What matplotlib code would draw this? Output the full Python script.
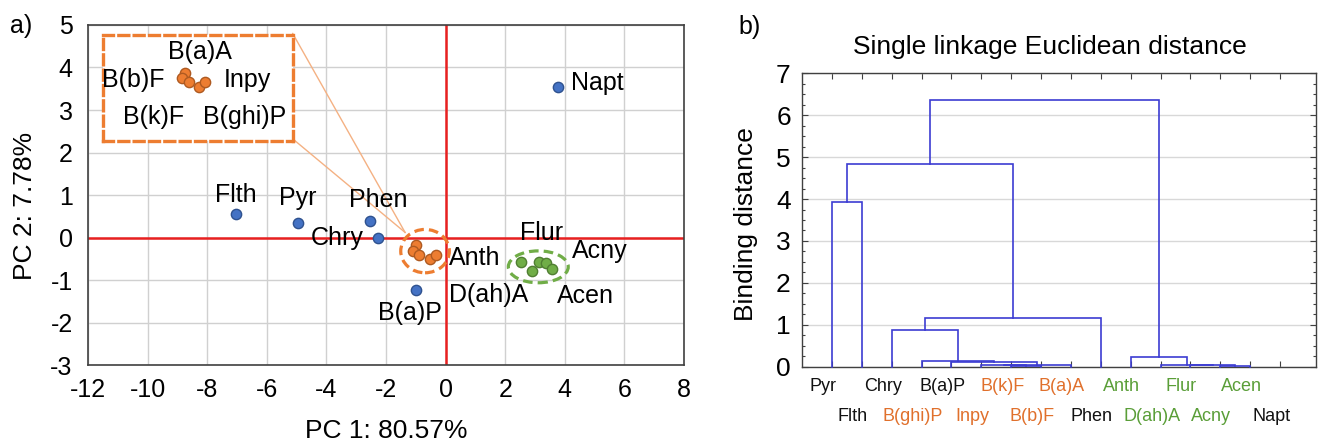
import matplotlib.pyplot as plt
from matplotlib.patches import Ellipse
import numpy as np

plt.rcParams['font.family'] = ['Liberation Sans', 'DejaVu Sans']
plt.rcParams['axes.unicode_minus'] = False

# ---- a) PCA scores ----
blue_names = ['Flth', 'Pyr', 'Phen', 'Chry', 'B(a)P', 'Napt']
blue_x = [-7.03, -4.96, -2.54, -2.28, -0.99, 3.77]
blue_y = [0.55, 0.33, 0.40, 0.00, -1.24, 3.53]

orange_names = ['B(a)A', 'B(b)F', 'Inpy', 'B(k)F', 'B(ghi)P']
orange_x = [-0.99, -1.10, -0.88, -0.52, -0.32]
orange_y = [-0.18, -0.31, -0.40, -0.51, -0.41]

green_names = ['Anth', 'D(ah)A', 'Flur', 'Acny', 'Acen']
green_x = [2.52, 2.89, 3.14, 3.36, 3.56]
green_y = [-0.57, -0.78, -0.58, -0.59, -0.73]

# where each name is written (PC1, PC2)
label_pos = {
    'Flth': (-7.03, 1.0), 'Pyr': (-4.96, 0.92), 'Phen': (-2.25, 0.88),
    'Chry': (-3.65, 0.0), 'B(a)P': (-1.18, -1.77), 'Napt': (5.1, 3.63),
    'Anth': (0.99, -0.49), 'D(ah)A': (1.43, -1.35), 'Flur': (3.22, 0.1),
    'Acny': (5.16, -0.32), 'Acen': (4.68, -1.38),
    'B(a)A': (-8.24, 4.37), 'B(b)F': (-10.48, 3.71), 'Inpy': (-6.64, 3.71),
    'B(k)F': (-9.79, 2.84), 'B(ghi)P': (-6.73, 2.84),
}

# magnified box for the orange group
box = (-11.51, 2.28, -5.13, 4.76)
box_shift = (-7.74, 4.06)

# ---- b) dendrogram ----
leaves = ['Pyr', 'Flth', 'Chry', 'B(ghi)P', 'B(a)P', 'Inpy', 'B(k)F', 'B(b)F',
          'B(a)A', 'Phen', 'Anth', 'D(ah)A', 'Flur', 'Acny', 'Acen', 'Napt']
leaf_group = ['k', 'k', 'k', 'o', 'k', 'o', 'o', 'o',
              'o', 'k', 'g', 'g', 'g', 'g', 'g', 'k']
# (left id, right id, height); ids 0-15 are leaves, 16+ are merges
merges = [(0, 1, 3.92), (6, 7, 0.02), (5, 17, 0.03), (18, 8, 0.05),
          (4, 19, 0.12), (3, 20, 0.14), (2, 21, 0.88), (22, 9, 1.15),
          (16, 23, 4.83), (13, 14, 0.02), (12, 25, 0.03), (11, 26, 0.05),
          (10, 27, 0.22), (24, 28, 6.37)]

c_blue, e_blue = '#4472c4', '#2f528f'
c_orange, e_orange = '#ed7d31', '#ae5a21'
c_green, e_green = '#70ad47', '#507e32'
txt_col = {'k': '#111111', 'o': '#e0702c', 'g': '#5a9e38'}

fig = plt.figure(figsize=(13.21, 4.44), dpi=100)

# ================= a) =================
ax = fig.add_axes([0.0666, 0.1779, 0.4512, 0.7658])
ax.set_xlim(-12, 8)
ax.set_ylim(-3, 5)
ax.set_xticks(np.arange(-12, 9, 2))
ax.set_yticks(np.arange(-3, 6, 1))
ax.grid(True, color='#d0d0d0', lw=1)
ax.set_axisbelow(True)
ax.tick_params(length=0, labelsize=18)
ax.tick_params(axis='y', pad=11)
ax.tick_params(axis='x', pad=9)
for s in ax.spines.values():
    s.set_color('#404040')
    s.set_linewidth(1.2)
ax.axhline(0, color='#e82020', lw=1.8, zorder=1)
ax.axvline(0, color='#e82020', lw=1.8, zorder=1)

ax.scatter(blue_x, blue_y, s=55, c=c_blue, edgecolors=e_blue, lw=1, zorder=3)
ax.scatter(orange_x, orange_y, s=55, c=c_orange, edgecolors=e_orange, lw=1, zorder=3)
ax.scatter(green_x, green_y, s=55, c=c_green, edgecolors=e_green, lw=1, zorder=3)

ax.add_patch(Ellipse((-0.69, -0.32), 1.63, 1.02, fill=False, ec=c_orange,
                     lw=2.3, ls=(0, (3, 1.6)), zorder=2))
ax.add_patch(Ellipse((3.11, -0.69), 2.01, 0.75, fill=False, ec=c_green,
                     lw=2.3, ls=(0, (3, 1.6)), zorder=2))

# connector lines from box to group
ax.plot([box[2], -1.36], [box[3] + 0.04, 0.12], color='#f4b183', lw=1, zorder=2)
ax.plot([box[2] + 0.07, -1.36], [box[1], 0.12], color='#f4b183', lw=1, zorder=2)

ins = ax.inset_axes([box[0], box[1], box[2] - box[0], box[3] - box[1]],
                    transform=ax.transData, zorder=4)
ins.set_xlim(box[0] - box_shift[0], box[2] - box_shift[0])
ins.set_ylim(box[1] - box_shift[1], box[3] - box_shift[1])
ins.set_xticks([])
ins.set_yticks([])
ins.set_facecolor('white')
for s in ins.spines.values():
    s.set_edgecolor(c_orange)
    s.set_linewidth(2.4)
    s.set_linestyle((0, (3, 1.6)))
ins.scatter(orange_x, orange_y, s=55, c=c_orange, edgecolors=e_orange, lw=1, zorder=3)

for name, (lx, ly) in label_pos.items():
    ax.text(lx, ly, name, fontsize=18, ha='center', va='center', zorder=6)

ax.set_xlabel('PC 1: 80.57%', fontsize=19)
ax.set_ylabel('PC 2: 7.78%', fontsize=19)
ax.xaxis.set_label_coords(0.5, -0.16)
ax.yaxis.set_label_coords(-0.085, 0.468)
fig.text(21 / 1321, 1 - 26 / 444, 'a)', fontsize=18, ha='center', va='center')

# ================= b) =================
bx = fig.add_axes([0.6071, 0.1741, 0.3891, 0.6608])
n = len(leaves)
bx.set_xlim(0, 17.2)
bx.set_ylim(0, 7)
bx.set_yticks(np.arange(0, 8, 1))
bx.set_yticks(np.arange(0, 7.01, 0.25), minor=True)
bx.set_xticks(np.arange(1, n + 1))
bx.set_xticklabels([])
bx.grid(True, axis='y', color='#d8d8d8', lw=1)
bx.set_axisbelow(True)
bx.tick_params(direction='in', top=True, right=True, length=4, width=0.8,
               colors='#404040', labelsize=19, labelcolor='black')
bx.tick_params(axis='y', pad=8)
bx.tick_params(which='minor', direction='in', right=True, length=2, width=0.8,
               colors='#404040')
for s in bx.spines.values():
    s.set_color('#404040')
    s.set_linewidth(1)

pos = {i: i + 1.0 for i in range(n)}
hgt = {i: 0.0 for i in range(n)}
for k, (a, b, h) in enumerate(merges):
    xa, xb = pos[a], pos[b]
    bx.plot([xa, xa, xb, xb], [hgt[a], h, h, hgt[b]], color='#3c3cd2', lw=1.2,
            solid_joinstyle='miter', zorder=3, clip_on=False)
    pos[n + k] = (xa + xb) / 2
    hgt[n + k] = h

for i, name in enumerate(leaves):
    yrow = -0.069 if i % 2 == 0 else -0.171
    bx.text(i + 1 - 0.3, yrow, name, transform=bx.get_xaxis_transform(),
            fontsize=13, ha='center', va='center', color=txt_col[leaf_group[i]])

bx.set_ylabel('Binding distance', fontsize=19)
bx.yaxis.set_label_coords(-0.085, 0.487)
fig.text(1050 / 1321, 1 - 47 / 444, 'Single linkage Euclidean distance',
         fontsize=19, ha='center', va='center')
fig.text(750 / 1321, 1 - 27 / 444, 'b)', fontsize=18, ha='center', va='center')

fig.savefig('out.png', dpi=100)
